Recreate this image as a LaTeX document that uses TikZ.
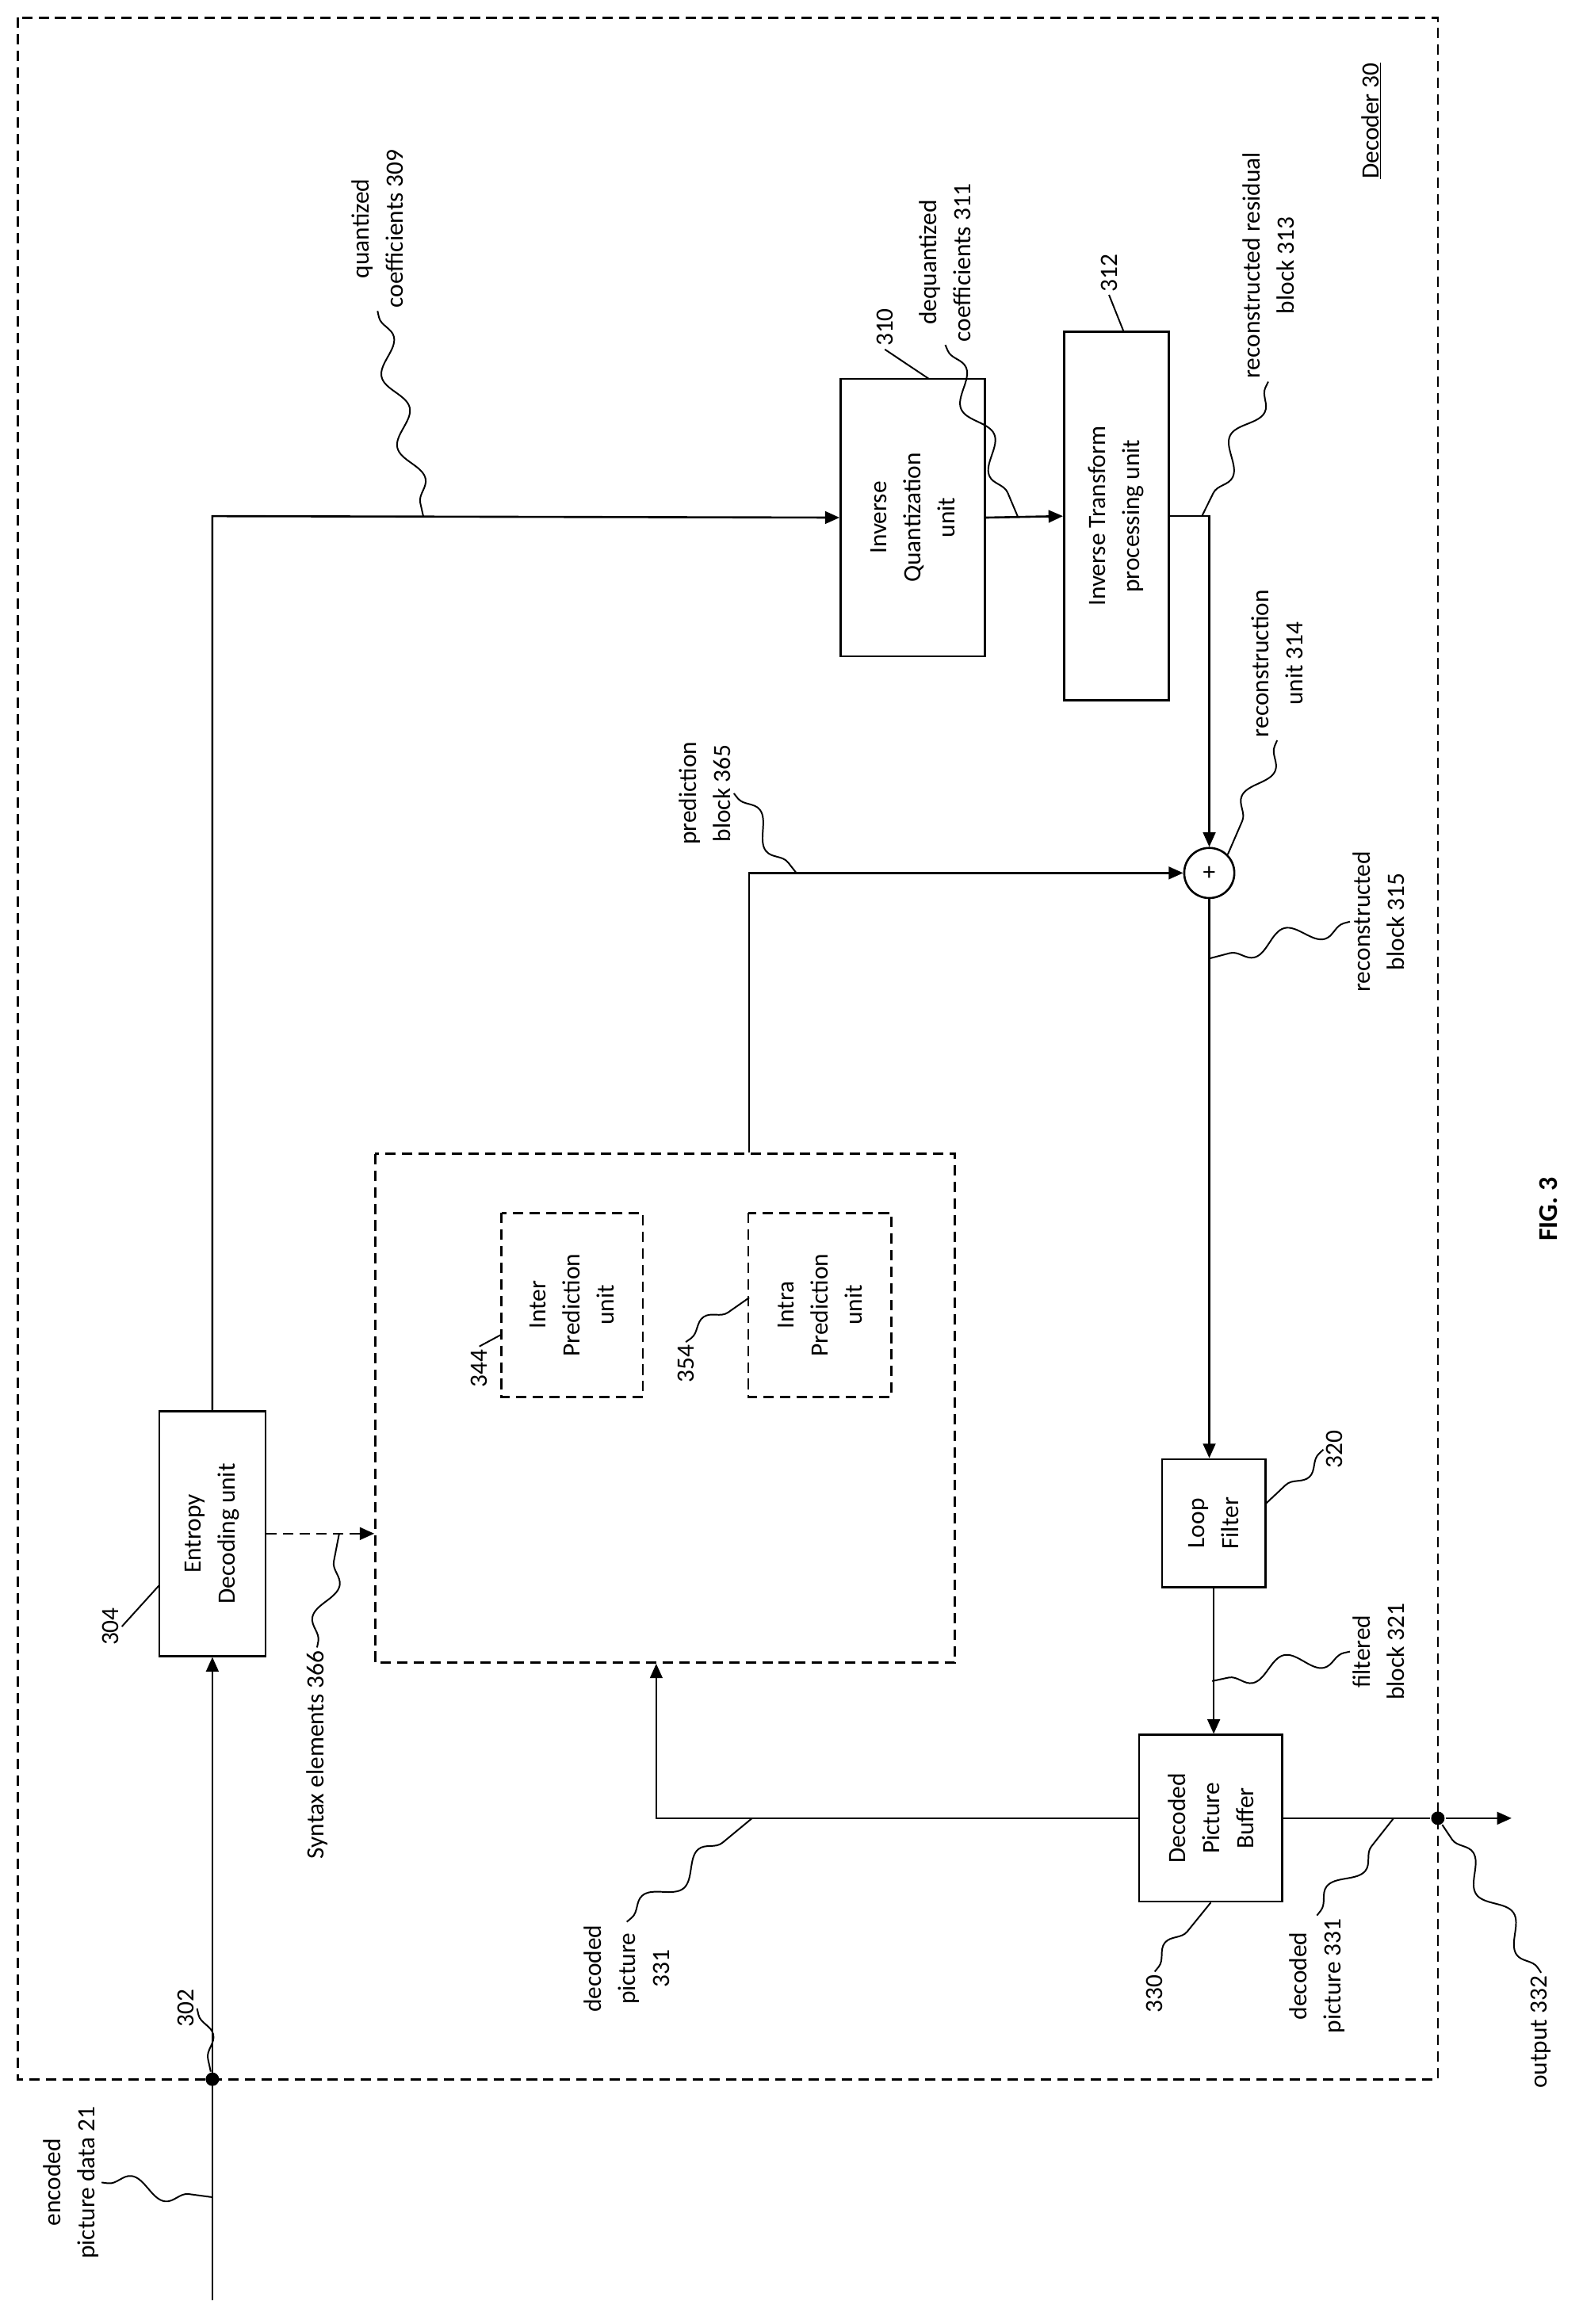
\documentclass[tikz,border=0pt]{standalone}
\usepackage{fontspec}
\setmainfont{Carlito}
\usetikzlibrary{arrows.meta,decorations.pathmorphing}
\begin{document}
\begin{tikzpicture}[x=0.05cm,y=0.05cm,line width=2pt,
  every node/.style={font=\fontsize{24}{33}\selectfont},
  dsh/.style={dash pattern=on 10pt off 6pt},
  box/.style={draw,rotate=90,align=center,inner sep=0pt},
  lab/.style={rotate=90,align=center,inner sep=2pt},
  arr/.style={-{Triangle[length=14pt,width=12pt]}},
  sq/.style={line width=1.5pt,decorate,decoration={snake,segment length=70pt,amplitude=10pt,pre length=6pt,post length=6pt}},
  dot/.style={circle,fill,inner sep=0pt,minimum size=13pt}]
\useasboundingbox (0,0) rectangle (1073,-1576);
\draw[dsh] (12,-12) rectangle (975,-1410);
% boxes (rotated: minimum width = vertical extent; 1 unit = 0.5mm)
\node[box,minimum width=83mm,minimum height=36mm] (ent) at (144,-1040) {Entropy\\Decoding unit};
\node[box,minimum width=94mm,minimum height=49mm] (iq) at (619,-351) {Inverse\\Quantization\\unit};
\node[box,minimum width=125mm,minimum height=35.5mm] (it) at (757,-350) {Inverse Transform\\processing unit};
\node[circle,draw,inner sep=0pt,minimum size=17mm] (sum) at (820,-592) {+};
\node[box,minimum width=43.5mm,minimum height=35mm] (lf) at (823,-1033) {Loop\\Filter};
\node[box,minimum width=56.5mm,minimum height=48.5mm] (dpb) at (821,-1233) {Decoded\\Picture\\Buffer};
\node[box,dsh,minimum width=172.5mm,minimum height=196.5mm] (pred) at (451,-955) {};
\node[box,dsh,minimum width=62.5mm,minimum height=48mm] (inter) at (388,-885) {Inter\\Prediction\\unit};
\node[box,dsh,minimum width=62.5mm,minimum height=48.5mm] (intra) at (556,-885) {Intra\\Prediction\\unit};
% coordinates
\coordinate (in) at (144,-1560);
\node[dot] (d302) at (144,-1410) {};
\node[dot] (dout) at (975,-1233) {};
\coordinate (out) at (1025,-1233);
\coordinate (c1) at (144,-350);
\coordinate (c2) at (820,-350);
\coordinate (c3) at (508,-592);
\coordinate (c4) at (445,-1233);
% connectors
\draw[arr] (in) -- (ent.west);
\draw[arr] (ent.east) -- (c1) -- (iq.north);
\draw[arr] (iq.south) -- (it.north);
\draw[arr] (it.south) -- (c2) -- (sum.north);
\draw[arr] (pred.east -| c3) -- (c3) -- (sum.west);
\draw[arr] (sum.south) -- (sum.south |- lf.east);
\draw[arr] (lf.west) -- (lf.west |- dpb.east);
\draw[arr] (dpb.north) -- (c4) -- (c4 |- pred.west);
\draw[arr] (dpb.south) -- (dout) -- (out);
\draw[arr,dsh] (ent.south) -- (ent.south -| pred.north);
% labels
\node[lab] (l21) at (48,-1480) {encoded\\picture data 21};
\node[lab] (l302) at (126,-1362) {302};
\node[lab] (l304) at (75,-1103) {304};
\node[lab] (l309) at (256,-155) {quantized\\coefficients 309};
\node[lab] (l310) at (600,-222) {310};
\node[lab] (l311) at (641,-178) {dequantized\\coefficients 311};
\node[lab] (l312) at (752,-185) {312};
\node[lab] (l313) at (860,-180) {reconstructed residual\\block 313};
\node[lab] (l314) at (866,-450) {reconstruction\\unit 314};
\node[lab] (l365) at (478,-538) {prediction\\block 365};
\node[lab] (l315) at (935,-625) {reconstructed\\block 315};
\node[lab] (l320) at (905,-983) {320};
\node[lab] (l321) at (935,-1120) {filtered\\block 321};
\node[lab] (l330) at (783,-1352) {330};
\node[lab] (l331a) at (425,-1335) {decoded\\picture\\331};
\node[lab] (l331b) at (893,-1340) {decoded\\picture 331};
\node[lab] (l332) at (1045,-1378) {output 332};
\node[lab] (l366) at (215,-1190) {Syntax elements 366};
\node[lab] (l344) at (325,-928) {344};
\node[lab] (l354) at (465,-925) {354};
\node[lab] (dec) at (930,-82) {\underline{Decoder 30}};
\node[lab,font=\fontsize{26}{30}\selectfont\bfseries] (fig) at (1050,-820) {FIG. 3};
% squiggle end points
\coordinate (s21) at (144,-1490);
\coordinate (s304) at (108,-1075);
\coordinate (s309) at (287,-350);
\coordinate (s310) at (630,-257);
\coordinate (s311) at (690,-350);
\coordinate (s312) at (762,-225);
\coordinate (s313) at (815,-350);
\coordinate (s365) at (540,-592);
\coordinate (s315) at (820,-650);
\coordinate (s320) at (858,-1020);
\coordinate (s321) at (822,-1140);
\coordinate (s331a) at (510,-1233);
\coordinate (s331b) at (945,-1233);
\coordinate (s366) at (230,-1040);
\coordinate (s344) at (340,-905);
\coordinate (s354) at (508,-880);
% squiggles
\draw[sq] (l21.south) -- (s21);
\draw[sq] (l302.south) -- (d302);
\draw[sq] (l304.south) -- (s304);
\draw[sq] (l309.west) -- (s309);
\draw[sq] (l310.west) -- (s310);
\draw[sq] (l311.west) -- (s311);
\draw[sq] (l312.west) -- (s312);
\draw[sq] (l313.west) -- (s313);
\draw[sq] (l314.west) -- (sum.north east);
\draw[sq] (l365.south) -- (s365);
\draw[sq] (l315.north) -- (s315);
\draw[sq] (l320.north) -- (s320);
\draw[sq] (l321.north) -- (s321);
\draw[sq] (l330.east) -- (dpb.west);
\draw[sq] (l331a.east) -- (s331a);
\draw[sq] (l331b.east) -- (s331b);
\draw[sq] (l332.east) -- (dout);
\draw[sq] (l366.east) -- (s366);
\draw[sq] (l344.east) -- (s344);
\draw[sq] (l354.east) -- (s354);
\end{tikzpicture}
\end{document}
